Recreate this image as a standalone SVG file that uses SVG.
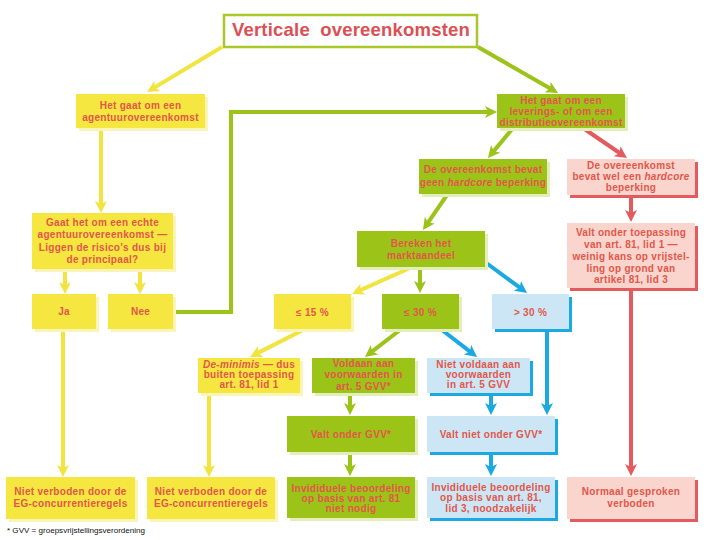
<svg xmlns="http://www.w3.org/2000/svg" width="720" height="540" viewBox="0 0 720 540">
<defs>
<style>
.t{font-family:"Liberation Sans",Arial,sans-serif;font-weight:bold;font-size:10px;fill:#e2574a;text-anchor:middle;letter-spacing:0.3px}
.y{fill:#f6e640}.g{fill:#9cc318}.p{fill:#f9d5cd}.b{fill:#cde6f6}
.ys{fill:#fbf4b8}.gs{fill:#e3eebb}.ps{fill:#e35b5e}.bs{fill:#1ba9e1}
.cy{stroke:#f2e43e;stroke-width:4;fill:none}
.cg{stroke:#9cc318;stroke-width:4;fill:none}
.cr{stroke:#e35b5e;stroke-width:4;fill:none}
.cb{stroke:#1ba9e1;stroke-width:4;fill:none}
</style>
<marker id="my" markerWidth="14" markerHeight="14" refX="4" refY="6" orient="auto" markerUnits="userSpaceOnUse"><path d="M0,0 L12,6 L0,12 L3,6 Z" fill="#f2e43e"/></marker>
<marker id="mg" markerWidth="14" markerHeight="14" refX="4" refY="6" orient="auto" markerUnits="userSpaceOnUse"><path d="M0,0 L12,6 L0,12 L3,6 Z" fill="#9cc318"/></marker>
<marker id="mr" markerWidth="14" markerHeight="14" refX="4" refY="6" orient="auto" markerUnits="userSpaceOnUse"><path d="M0,0 L12,6 L0,12 L3,6 Z" fill="#e35b5e"/></marker>
<marker id="mb" markerWidth="14" markerHeight="14" refX="4" refY="6" orient="auto" markerUnits="userSpaceOnUse"><path d="M0,0 L12,6 L0,12 L3,6 Z" fill="#1ba9e1"/></marker>
</defs>
<rect width="720" height="540" fill="#ffffff"/>

<g id="connectors">
<path class="cy" d="M222,47 L153.9,87.9" marker-end="url(#my)"/>
<path class="cg" d="M478,47 L551.1,89" marker-end="url(#mg)"/>
<path class="cg" d="M173,312 L231,312 L231,112 L489,112" marker-end="url(#mg)"/>
<path class="cy" d="M101,128 L101,205" marker-end="url(#my)"/>
<path class="cy" d="M65,269 L65,286" marker-end="url(#my)"/>
<path class="cy" d="M140,269 L140,286" marker-end="url(#my)"/>
<path class="cy" d="M63,329 L63,469" marker-end="url(#my)"/>
<path class="cy" d="M209,393 L209,469" marker-end="url(#my)"/>
<path class="cy" d="M305,329 L257.1,353.4" marker-end="url(#my)"/>
<path class="cg" d="M513,128 L493.1,151.9" marker-end="url(#mg)"/>
<path class="cr" d="M583,128 L620.4,153.5" marker-end="url(#mr)"/>
<path class="cg" d="M447,195 L427.5,223.4" marker-end="url(#mg)"/>
<path class="cr" d="M631,195 L631,214" marker-end="url(#mr)"/>
<path class="cr" d="M631,288 L631,468" marker-end="url(#mr)"/>
<path class="cy" d="M410,268 L359.3,290.7" marker-end="url(#my)"/>
<path class="cg" d="M420,267 L420,285" marker-end="url(#mg)"/>
<path class="cb" d="M485,262 L520.6,288.2" marker-end="url(#mb)"/>
<path class="cg" d="M400,330 L371.3,352.1" marker-end="url(#mg)"/>
<path class="cb" d="M442,330 L470.7,352.1" marker-end="url(#mb)"/>
<path class="cg" d="M350,393 L350,407" marker-end="url(#mg)"/>
<path class="cb" d="M491,393 L491,407" marker-end="url(#mb)"/>
<path class="cb" d="M547,329 L547,407" marker-end="url(#mb)"/>
<path class="cg" d="M350,452 L350,468" marker-end="url(#mg)"/>
<path class="cb" d="M491,452 L491,468" marker-end="url(#mb)"/>
</g>

<g id="title">
<rect x="224" y="15" width="253" height="32" fill="#ffffff" stroke="#a9c62a" stroke-width="2.5"/>
<text x="351" y="36" font-family="Liberation Sans, Arial, sans-serif" font-weight="bold" font-size="18.5" fill="#dd4f55" text-anchor="middle" word-spacing="5" letter-spacing="0.2">Verticale overeenkomsten</text>
</g>

<g id="agentuur">
<rect class="ys" x="79" y="97" width="129" height="34"/>
<rect class="y" x="76" y="94" width="129" height="34"/>
<text class="t" x="140.5" y="109">Het gaat om een</text>
<text class="t" x="140.5" y="121">agentuurovereenkomst</text>
</g>

<g id="levering">
<rect class="gs" x="500" y="97" width="128" height="34"/>
<rect class="g" x="497" y="94" width="128" height="34"/>
<text class="t" x="561" y="104">Het gaat om een</text>
<text class="t" x="561" y="115">leverings- of om een</text>
<text class="t" x="561" y="126" letter-spacing="0">distributieovereenkomst</text>
</g>

<g id="vraag">
<rect class="ys" x="35" y="216" width="141" height="56"/>
<rect class="y" x="32" y="213" width="141" height="56"/>
<text class="t" x="102.5" y="226">Gaat het om een echte</text>
<text class="t" x="102.5" y="238" letter-spacing="0">agentuurovereenkomst —</text>
<text class="t" x="102.5" y="251">Liggen de risico’s dus bij</text>
<text class="t" x="102.5" y="263">de principaal?</text>
</g>

<g id="ja">
<rect class="ys" x="35" y="297" width="64" height="35"/>
<rect class="y" x="32" y="294" width="64" height="35"/>
<text class="t" x="64" y="315">Ja</text>
</g>

<g id="nee">
<rect class="ys" x="111" y="297" width="65" height="35"/>
<rect class="y" x="108" y="294" width="65" height="35"/>
<text class="t" x="140.5" y="315">Nee</text>
</g>

<g id="geen-hardcore">
<rect class="gs" x="422" y="162" width="128" height="35"/>
<rect class="g" x="419" y="159" width="128" height="35"/>
<text class="t" x="483" y="173">De overeenkomst bevat</text>
<text class="t" x="483" y="186">geen <tspan font-style="italic">hardcore</tspan> beperking</text>
</g>

<g id="wel-hardcore">
<rect class="ps" x="570" y="162" width="128" height="36"/>
<rect class="p" x="567" y="159" width="128" height="36"/>
<text class="t" x="631" y="169">De overeenkomst</text>
<text class="t" x="631" y="180">bevat wel een <tspan font-style="italic">hardcore</tspan></text>
<text class="t" x="631" y="191">beperking</text>
</g>

<g id="bereken">
<rect class="gs" x="360" y="234" width="128" height="36"/>
<rect class="g" x="357" y="231" width="128" height="36"/>
<text class="t" x="421" y="247">Bereken het</text>
<text class="t" x="421" y="259">marktaandeel</text>
</g>

<g id="valt-onder-toepassing">
<rect class="ps" x="570" y="226" width="128" height="65"/>
<rect class="p" x="567" y="223" width="128" height="65"/>
<text class="t" x="631" y="236">Valt onder toepassing</text>
<text class="t" x="631" y="248">van art. 81, lid 1 —</text>
<text class="t" x="631" y="260">weinig kans op vrijstel-</text>
<text class="t" x="631" y="272">ling op grond van</text>
<text class="t" x="631" y="283">artikel 81, lid 3</text>
</g>

<g id="le15">
<rect class="ys" x="277" y="297" width="77" height="35"/>
<rect class="y" x="274" y="294" width="77" height="35"/>
<text class="t" x="312.5" y="316">≤ 15 %</text>
</g>

<g id="le30">
<rect class="gs" x="385" y="297" width="77" height="35"/>
<rect class="g" x="382" y="294" width="77" height="35"/>
<text class="t" x="420.5" y="316">≤ 30 %</text>
</g>

<g id="gt30">
<rect class="bs" x="495" y="297" width="77" height="35"/>
<rect class="b" x="492" y="294" width="77" height="35"/>
<text class="t" x="530.5" y="316">&gt; 30 %</text>
</g>

<g id="de-minimis">
<rect class="ys" x="201" y="361" width="102" height="35"/>
<rect class="y" x="198" y="358" width="102" height="35"/>
<text class="t" x="249" y="368"><tspan font-style="italic">De-minimis</tspan> — dus</text>
<text class="t" x="249" y="378">buiten toepassing</text>
<text class="t" x="249" y="388">art. 81, lid 1</text>
</g>

<g id="voldaan">
<rect class="gs" x="315" y="361" width="103" height="35"/>
<rect class="g" x="312" y="358" width="103" height="35"/>
<text class="t" x="363.5" y="367">Voldaan aan</text>
<text class="t" x="363.5" y="378">voorwaarden in</text>
<text class="t" x="363.5" y="390">art. 5 GVV*</text>
</g>

<g id="niet-voldaan">
<rect class="bs" x="430" y="361" width="103" height="35"/>
<rect class="b" x="427" y="358" width="103" height="35"/>
<text class="t" x="478.5" y="368">Niet voldaan aan</text>
<text class="t" x="478.5" y="378">voorwaarden</text>
<text class="t" x="478.5" y="388">in art. 5 GVV</text>
</g>

<g id="valt-onder-gvv">
<rect class="gs" x="290" y="419" width="128" height="36"/>
<rect class="g" x="287" y="416" width="128" height="36"/>
<text class="t" x="351" y="438">Valt onder GVV*</text>
</g>

<g id="valt-niet-onder-gvv">
<rect class="bs" x="430" y="419" width="128" height="36"/>
<rect class="b" x="427" y="416" width="128" height="36"/>
<text class="t" x="491" y="438">Valt niet onder GVV*</text>
</g>

<g id="niet-verboden-1">
<rect class="ys" x="9" y="480" width="129" height="42"/>
<rect class="y" x="6" y="477" width="129" height="42"/>
<text class="t" x="70.5" y="495">Niet verboden door de</text>
<text class="t" x="70.5" y="507" letter-spacing="0">EG-concurrentieregels</text>
</g>

<g id="niet-verboden-2">
<rect class="ys" x="150" y="480" width="128" height="42"/>
<rect class="y" x="147" y="477" width="128" height="42"/>
<text class="t" x="211" y="495">Niet verboden door de</text>
<text class="t" x="211" y="507" letter-spacing="0">EG-concurrentieregels</text>
</g>

<g id="individueel-niet-nodig">
<rect class="gs" x="290" y="480" width="128" height="41"/>
<rect class="g" x="287" y="477" width="128" height="41"/>
<text class="t" x="351" y="492" letter-spacing="0">Invididuele beoordeling</text>
<text class="t" x="351" y="502">op basis van art. 81</text>
<text class="t" x="351" y="512">niet nodig</text>
</g>

<g id="individueel-noodzakelijk">
<rect class="bs" x="430" y="480" width="128" height="41"/>
<rect class="b" x="427" y="477" width="128" height="41"/>
<text class="t" x="491" y="491" letter-spacing="0">Invididuele beoordeling</text>
<text class="t" x="491" y="501">op basis van art. 81,</text>
<text class="t" x="491" y="512">lid 3, noodzakelijk</text>
</g>

<g id="verboden">
<rect class="ps" x="570" y="480" width="128" height="42"/>
<rect class="p" x="567" y="477" width="128" height="42"/>
<text class="t" x="631" y="495">Normaal gesproken</text>
<text class="t" x="631" y="507">verboden</text>
</g>

<text x="7" y="533" font-family="Liberation Sans, Arial, sans-serif" font-size="8" fill="#111111" textLength="138" lengthAdjust="spacingAndGlyphs">* GVV = groepsvrijstellingsverordening</text>
</svg>
